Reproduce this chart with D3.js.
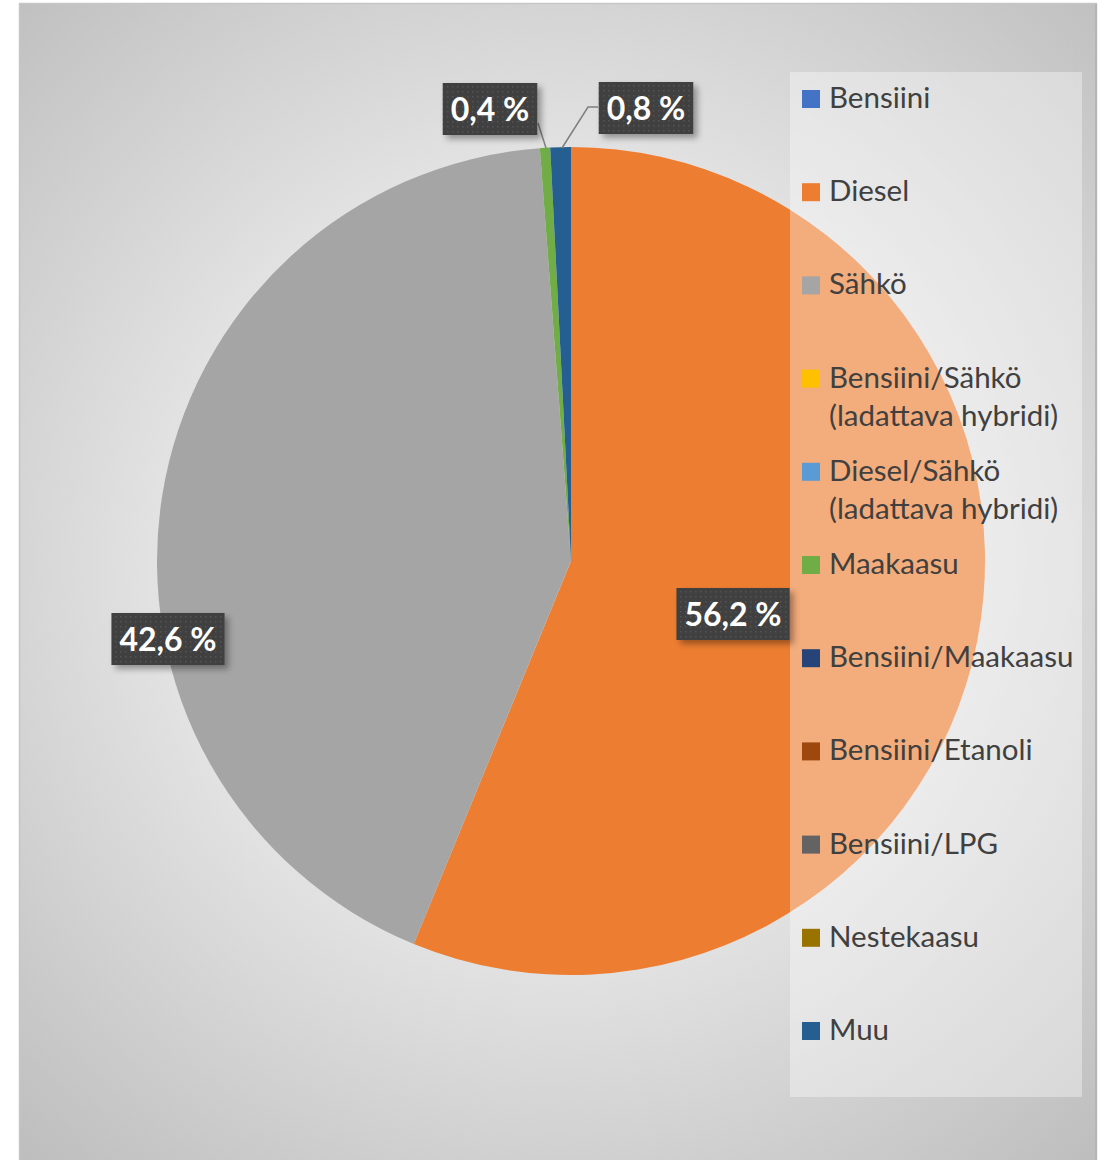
<!DOCTYPE html>
<html>
<head>
<meta charset="utf-8">
<script src="https://cdn.jsdelivr.net/npm/d3@7"></script>
<style>
  body { margin: 0; background: #fff; }
  svg { display: block; }
</style>
</head>
<body>
<div id="chart"></div>
<script>
// categories and values (share of total, %)
const categories = ["Bensiini", "Diesel", "Sähkö", "Bensiini/Sähkö (ladattava hybridi)",
  "Diesel/Sähkö (ladattava hybridi)", "Maakaasu", "Bensiini/Maakaasu", "Bensiini/Etanoli",
  "Bensiini/LPG", "Nestekaasu", "Muu"];
const values = [0, 56.2, 42.6, 0, 0, 0.4, 0, 0, 0, 0, 0.8];
const colors = ["#4472C4", "#ED7D31", "#A5A5A5", "#FFC000", "#5B9BD5", "#70AD47",
  "#264478", "#9E480E", "#636363", "#997300", "#255E91"];
// legend lines (wrapped as in the original)
const legendLines = [["Bensiini"], ["Diesel"], ["Sähkö"], ["Bensiini/Sähkö", "(ladattava hybridi)"],
  ["Diesel/Sähkö", "(ladattava hybridi)"], ["Maakaasu"], ["Bensiini/Maakaasu"], ["Bensiini/Etanoli"],
  ["Bensiini/LPG"], ["Nestekaasu"], ["Muu"]];

const W = 1104, H = 1160;
const cx = 571, cy = 561, R = 414;

// label box centres and leader lines (layout only)
const labelLayout = {
  "Diesel":   {x: 733, y: 614},
  "Sähkö":    {x: 168, y: 639},
  "Maakaasu": {x: 490, y: 109, leader: [[538, 123], [546, 148]]},
  "Muu":      {x: 646, y: 108, leader: [[598, 107], [588, 107], [562, 148]]}
};

const fmt = v => d3.format(".1f")(v).replace(".", ",") + " %";

const svg = d3.select("#chart").append("svg")
  .attr("width", W).attr("height", H);

const defs = svg.append("defs");
const grad = defs.append("radialGradient").attr("id", "bg")
  .attr("gradientUnits", "userSpaceOnUse")
  .attr("cx", 560).attr("cy", 560).attr("r", 800);
grad.append("stop").attr("offset", "0%").attr("stop-color", "#f6f6f6");
grad.append("stop").attr("offset", "45%").attr("stop-color", "#e6e6e6");
grad.append("stop").attr("offset", "100%").attr("stop-color", "#bebebe");

const pat = defs.append("pattern").attr("id", "dots")
  .attr("width", 5).attr("height", 5).attr("patternUnits", "userSpaceOnUse");
pat.append("rect").attr("width", 5).attr("height", 5).attr("fill", "#404040");
pat.append("rect").attr("x", 2).attr("y", 2).attr("width", 1.4).attr("height", 1.4).attr("fill", "#555");

const shadow = defs.append("filter").attr("id", "shadow")
  .attr("x", "-20%").attr("y", "-20%").attr("width", "150%").attr("height", "160%");
shadow.append("feDropShadow").attr("dx", 4).attr("dy", 4).attr("stdDeviation", 3)
  .attr("flood-color", "#000").attr("flood-opacity", 0.35);

// chart area
svg.append("rect")
  .attr("x", 19.5).attr("y", 3.5).attr("width", 1077).attr("height", 1160)
  .attr("fill", "url(#bg)").attr("stroke", "#c6c6c6").attr("stroke-width", 1.5);
svg.append("line")
  .attr("x1", 1096).attr("x2", 1096).attr("y1", 4).attr("y2", H)
  .attr("stroke", "#b5b5b5").attr("stroke-width", 2);

// pie
const data = categories.map((c, i) => ({name: c, value: values[i], color: colors[i]}));
const pie = d3.pie().value(d => d.value).sort(null);
const arc = d3.arc().innerRadius(0).outerRadius(R);

svg.append("g")
  .attr("transform", "translate(" + cx + "," + cy + ")")
  .selectAll("path")
  .data(pie(data).filter(d => d.data.value > 0))
  .enter()
  .append("path")
  .attr("d", arc)
  .attr("fill", d => d.data.color);

// legend
const legend = svg.append("g");
legend.append("rect")
  .attr("x", 790).attr("y", 72).attr("width", 292).attr("height", 1025)
  .attr("fill", "#fff").attr("fill-opacity", 0.36);

const ly = d3.scalePoint().domain(categories).range([90, 1022]);

const item = legend.selectAll(".item")
  .data(data)
  .enter()
  .append("g")
  .attr("class", "item")
  .attr("transform", d => "translate(802," + ly(d.name) + ")");

item.append("rect")
  .attr("width", 18).attr("height", 18)
  .attr("fill", d => d.color);

item.append("text")
  .attr("x", 27)
  .attr("font-family", "Lato, 'Open Sans', sans-serif")
  .attr("font-size", 29.5)
  .attr("fill", "#404040")
  .selectAll("tspan")
  .data((d, i) => legendLines[i])
  .enter()
  .append("tspan")
  .attr("x", 27)
  .attr("y", (d, i) => 18 + i * 38)
  .text(d => d);

// leader lines
const labelled = data.filter(d => labelLayout[d.name]);
svg.selectAll(".leader")
  .data(labelled.filter(d => labelLayout[d.name].leader))
  .enter()
  .append("polyline")
  .attr("points", d => labelLayout[d.name].leader.map(p => p.join(",")).join(" "))
  .attr("fill", "none").attr("stroke", "#7f7f7f").attr("stroke-width", 1.5);

// data labels
const lab = svg.selectAll(".lab")
  .data(labelled)
  .enter()
  .append("g")
  .attr("class", "lab")
  .attr("transform", d => "translate(" + labelLayout[d.name].x + "," + labelLayout[d.name].y + ")");

lab.append("text")
  .attr("text-anchor", "middle")
  .attr("dy", "0.36em")
  .attr("font-family", "Lato, 'Open Sans', sans-serif")
  .attr("font-weight", "bold")
  .attr("font-size", 32)
  .attr("fill", "#fff")
  .text(d => fmt(d.value))
  .each(function(d){
    const bb = this.getBBox();
    const padX = 8, h = 52;
    d3.select(this.parentNode).insert("rect", "text")
      .attr("x", bb.x - padX).attr("y", -h / 2)
      .attr("width", bb.width + 2 * padX).attr("height", h)
      .attr("fill", "url(#dots)")
      .attr("filter", "url(#shadow)");
  });
</script>
</body>
</html>
